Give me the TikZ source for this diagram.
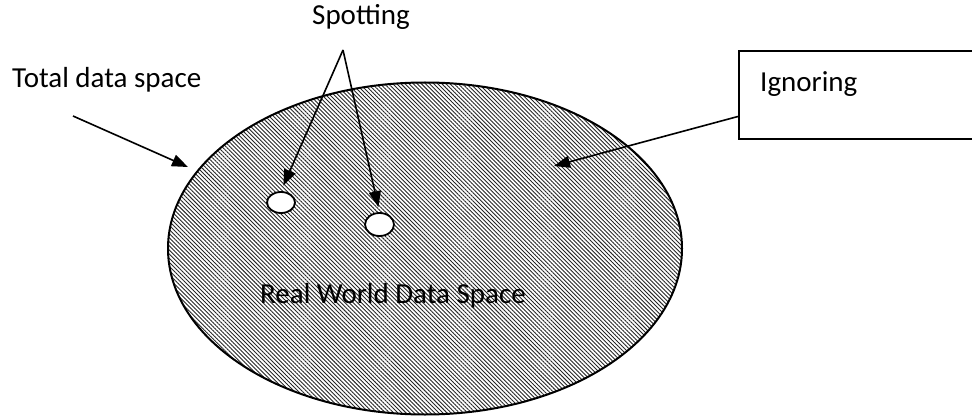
\documentclass[tikz,border=0pt]{standalone}
\usepackage{fontspec}
\setmainfont{Carlito}
\usetikzlibrary{arrows.meta,patterns.meta,shapes.geometric,calc}
\tikzset{
  lbl/.style={inner sep=0pt, anchor=base west, font=\fontsize{29}{34}\selectfont},
  arr/.style={line width=1.6pt, -{Triangle[length=16pt,width=12pt]}},
  hole/.style={ellipse, draw, line width=1.8pt, fill=white, inner sep=0pt},
  hatch/.style={pattern={Lines[angle=-45,distance=2.9pt,line width=0.9pt]}, pattern color=black!85},
}
\begin{document}
\begin{tikzpicture}[x=1pt,y=-1pt]
\useasboundingbox (0,0) rectangle (972,417);
\clip (0,0) rectangle (972,417);
% main data space
\node[ellipse, draw, line width=2pt, inner sep=0pt, minimum width=514pt, minimum height=332pt, hatch] (space) at (425,248.5) {};
\node[lbl] (real) at (260,303) {Real World Data Space};
% spotted holes
\node[hole, minimum width=28pt, minimum height=21pt] (h1) at (281,202.5) {};
\node[hole, minimum width=29pt, minimum height=23pt] (h2) at (379.5,224.5) {};
% labels
\node[lbl] (total) at (12,88) {Total data space};
\begin{scope}
  \clip (290,0) rectangle (440,32);
  \node[lbl] (spot) at (312,25) {Spotting};
\end{scope}
\node[draw, line width=2.2pt, minimum width=262pt, minimum height=88pt, inner sep=0pt] (ibox) at (870,95) {};
\node[lbl] (ign) at (760,92) {Ignoring};
% connectors
\coordinate (apex) at (343,50);
\draw[arr, shorten >=6pt] (apex) -- (h1.north);
\draw[arr, shorten >=5pt] (apex) -- (h2.north);
\coordinate (tstart) at (73,116);
\coordinate (ttip) at (188,167);
\draw[arr] (tstart) -- (ttip);
\coordinate (istart) at ($(ibox.west)+(0,21.5)$);
\coordinate (itip) at (554,166);
\draw[arr] (istart) -- (itip);
\end{tikzpicture}
\end{document}
